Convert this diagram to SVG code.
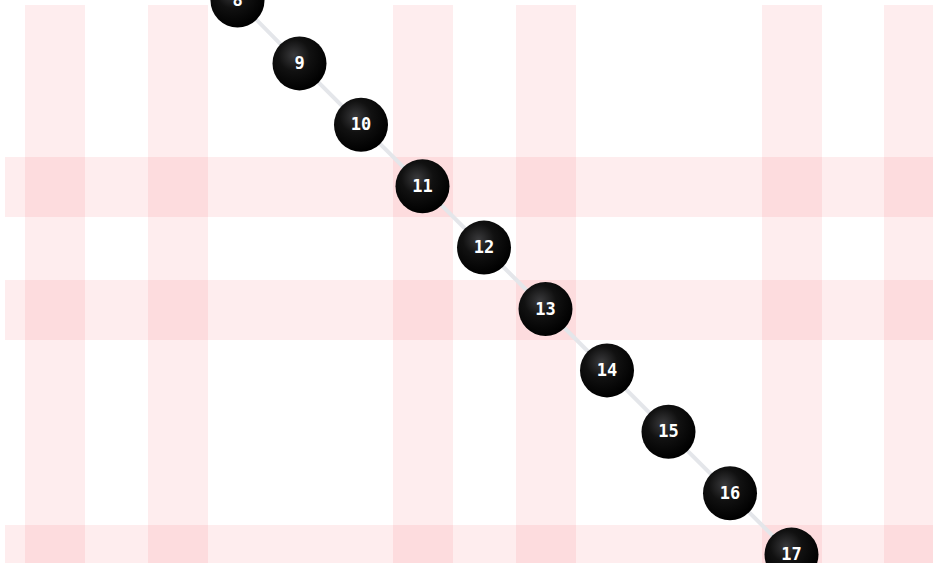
<svg xmlns="http://www.w3.org/2000/svg" width="937" height="563" viewBox="0 0 937 563">
  <defs>
    <radialGradient id="ball" cx="0.4" cy="0.35" r="0.65">
      <stop offset="0" stop-color="#3a3a3c"/>
      <stop offset="0.45" stop-color="#111"/>
      <stop offset="1" stop-color="#000"/>
    </radialGradient>
    <clipPath id="area"><rect x="5" y="5" width="928" height="560"/></clipPath>
    <style>
      .band { fill: #f24f55; fill-opacity: 0.1; }
      .edge { stroke: #e4e6ea; stroke-width: 4; stroke-linecap: round; fill: none; }
      .ball { fill: url(#ball); }
      .lbl { fill: #ffffff; font-family: "DejaVu Sans Mono", "Liberation Mono", monospace; font-weight: bold; font-size: 17px; text-anchor: middle; }
    </style>
  </defs>
  <rect width="937" height="563" fill="#ffffff"/>
  <g id="bands" clip-path="url(#area)">
    <rect class="band" x="25" y="5" width="60" height="560"/>
    <rect class="band" x="148" y="5" width="60" height="560"/>
    <rect class="band" x="393" y="5" width="60" height="560"/>
    <rect class="band" x="516" y="5" width="60" height="560"/>
    <rect class="band" x="762" y="5" width="60" height="560"/>
    <rect class="band" x="884" y="5" width="60" height="560"/>
    <rect class="band" x="5" y="157" width="930" height="60"/>
    <rect class="band" x="5" y="280" width="930" height="60"/>
    <rect class="band" x="5" y="525" width="930" height="60"/>
  </g>
  <g id="connectors">
    <line class="edge" x1="237.5" y1="0.5" x2="299.5" y2="63.4"/>
    <line class="edge" x1="299.5" y1="63.4" x2="361" y2="124.8"/>
    <line class="edge" x1="361" y1="124.8" x2="422.5" y2="186.2"/>
    <line class="edge" x1="422.5" y1="186.2" x2="484" y2="247.6"/>
    <line class="edge" x1="484" y1="247.6" x2="545.5" y2="309"/>
    <line class="edge" x1="545.5" y1="309" x2="607" y2="370.4"/>
    <line class="edge" x1="607" y1="370.4" x2="668.5" y2="431.8"/>
    <line class="edge" x1="668.5" y1="431.8" x2="730" y2="493.2"/>
    <line class="edge" x1="730" y1="493.2" x2="791.5" y2="554.6"/>
  </g>
  <g id="node8"><circle class="ball" cx="237.5" cy="0.5" r="27"/><text class="lbl" x="237.5" y="6">8</text></g>
  <g id="node9"><circle class="ball" cx="299.5" cy="63.4" r="27"/><text class="lbl" x="299.5" y="69">9</text></g>
  <g id="node10"><circle class="ball" cx="361" cy="124.8" r="27"/><text class="lbl" x="361" y="130.4">10</text></g>
  <g id="node11"><circle class="ball" cx="422.5" cy="186.2" r="27"/><text class="lbl" x="422.5" y="191.8">11</text></g>
  <g id="node12"><circle class="ball" cx="484" cy="247.6" r="27"/><text class="lbl" x="484" y="253.2">12</text></g>
  <g id="node13"><circle class="ball" cx="545.5" cy="309" r="27"/><text class="lbl" x="545.5" y="314.6">13</text></g>
  <g id="node14"><circle class="ball" cx="607" cy="370.4" r="27"/><text class="lbl" x="607" y="376">14</text></g>
  <g id="node15"><circle class="ball" cx="668.5" cy="431.8" r="27"/><text class="lbl" x="668.5" y="437.4">15</text></g>
  <g id="node16"><circle class="ball" cx="730" cy="493.2" r="27"/><text class="lbl" x="730" y="498.8">16</text></g>
  <g id="node17"><circle class="ball" cx="791.5" cy="554.6" r="27"/><text class="lbl" x="791.5" y="560.2">17</text></g>
</svg>
